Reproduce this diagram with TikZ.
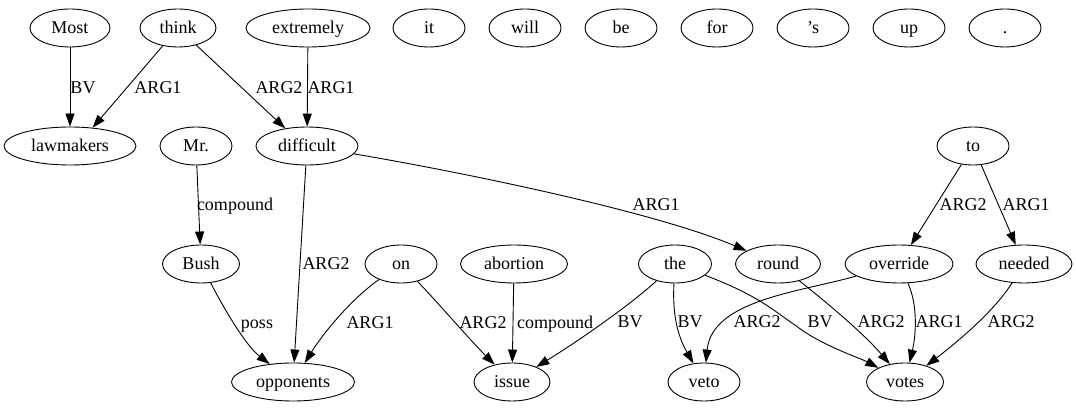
\documentclass[tikz,border=0pt]{standalone}
\usepackage{fontspec}
\setmainfont{Liberation Serif}
\usetikzlibrary{arrows.meta,shapes.geometric}
\tikzset{
  wn/.style={ellipse, draw, line width=0.9pt, minimum height=38pt, inner sep=0pt,
    font=\fontsize{18}{20}\selectfont, text height=14pt, text depth=2pt},
  lbl/.style={inner sep=0pt, font=\fontsize{18}{20}\selectfont, text height=14pt, text depth=2pt},
  edge/.style={line width=0.9pt, -{Triangle[length=13pt,width=9pt]}}
}
\begin{document}
\begin{tikzpicture}[x=1pt,y=-1pt]
\useasboundingbox (0,0) rectangle (1076,411);
% row 1
\node[wn, minimum width=80pt]  (most) at (70,28) {Most};
\node[wn, minimum width=76pt]  (think) at (178,28) {think};
\node[wn, minimum width=124pt] (extremely) at (308,28) {extremely};
\node[wn, minimum width=72pt]  (it) at (429,28) {it};
\node[wn, minimum width=72pt]  (will) at (525,28) {will};
\node[wn, minimum width=72pt]  (be) at (621,28) {be};
\node[wn, minimum width=72pt]  (for) at (717,28) {for};
\node[wn, minimum width=72pt]  (s) at (813,28) {’s};
\node[wn, minimum width=72pt]  (up) at (909,28) {up};
\node[wn, minimum width=72pt]  (dot) at (1005,28) {.};
% row 2
\node[wn, minimum width=132pt] (lawmakers) at (70,146) {lawmakers};
\node[wn, minimum width=72pt]  (mr) at (196,146) {Mr.};
\node[wn, minimum width=102pt] (difficult) at (307,146) {difficult};
\node[wn, minimum width=72pt]  (to) at (973,146) {to};
% row 3
\node[wn, minimum width=77pt]  (bush) at (201,264) {Bush};
\node[wn, minimum width=72pt]  (on) at (401,264) {on};
\node[wn, minimum width=107pt] (abortion) at (514,264) {abortion};
\node[wn, minimum width=73pt]  (the) at (675,264) {the};
\node[wn, minimum width=85pt]  (round) at (778,264) {round};
\node[wn, minimum width=108pt] (override) at (899,264) {override};
\node[wn, minimum width=96pt]  (needed) at (1024,264) {needed};
% row 4
\node[wn, minimum width=123pt] (opponents) at (293,382) {opponents};
\node[wn, minimum width=76pt]  (issue) at (512,382) {issue};
\node[wn, minimum width=72pt]  (veto) at (704,382) {veto};
\node[wn, minimum width=77pt]  (votes) at (905,382) {votes};
% edges
\draw[edge] (most) -- (lawmakers);
\draw[edge] (think) -- (lawmakers.39);
\draw[edge] (think) -- (difficult.141);
\draw[edge] (extremely) -- (difficult);
\draw[edge] (mr) -- (bush);
\draw[edge] (difficult) -- (opponents);
\draw[edge] (difficult) .. controls (450,170) and (650,210) .. (round);
\draw[edge] (to) -- (override);
\draw[edge] (to) -- (needed);
\draw[edge] (bush) .. controls (222,305) and (245,345) .. (opponents);
\draw[edge] (on) .. controls (350,300) and (322,335) .. (opponents);
\draw[edge] (on) .. controls (440,305) and (470,340) .. (issue);
\draw[edge] (abortion) -- (issue);
\draw[edge] (the) .. controls (630,305) and (580,340) .. (issue);
\draw[edge] (the) .. controls (672,320) and (680,340) .. (veto);
\draw[edge] (the) .. controls (760,296) and (775,312) .. (795,325) .. controls (820,345) and (860,358) .. (votes);
\draw[edge] (round) .. controls (830,305) and (865,335) .. (votes);
\draw[edge] (override) .. controls (800,292) and (712,300) .. (veto);
\draw[edge] (override) .. controls (918,305) and (916,335) .. (votes);
\draw[edge] (needed) .. controls (995,310) and (960,340) .. (votes);
% labels
\node[lbl] (l1) at (83,88) {BV};
\node[lbl] (l2) at (158,88) {ARG1};
\node[lbl] (l3) at (279,88) {ARG2};
\node[lbl] (l4) at (331,88) {ARG1};
\node[lbl] (l5) at (235,205) {compound};
\node[lbl] (l6) at (326,264) {ARG2};
\node[lbl] (l7) at (656,205) {ARG1};
\node[lbl] (l8) at (963,205) {ARG2};
\node[lbl] (l9) at (1026,205) {ARG1};
\node[lbl] (l10) at (257,323) {poss};
\node[lbl] (l11) at (370,323) {ARG1};
\node[lbl] (l12) at (483,323) {ARG2};
\node[lbl] (l13) at (555,323) {compound};
\node[lbl] (l14) at (630,322) {BV};
\node[lbl] (l15) at (690,322) {BV};
\node[lbl] (l16) at (757,322) {ARG2};
\node[lbl] (l17) at (820,322) {BV};
\node[lbl] (l18) at (881,322) {ARG2};
\node[lbl] (l19) at (939,322) {ARG1};
\node[lbl] (l20) at (1011,322) {ARG2};
\end{tikzpicture}
\end{document}
